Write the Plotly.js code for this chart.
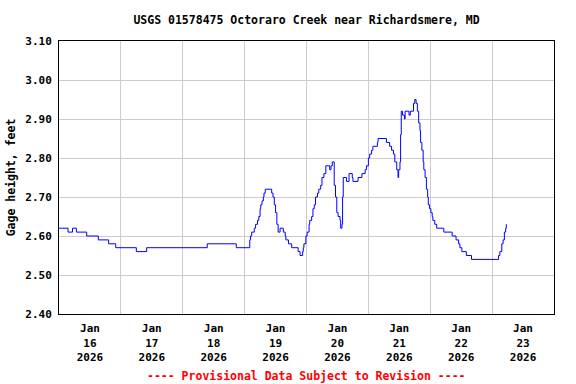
<!DOCTYPE html>
<html>
<head>
<meta charset="utf-8">
<script src="https://cdn.plot.ly/plotly-3.0.1.min.js"></script>
<style>html,body{margin:0;padding:0;background:#fff;}#chart{width:576px;height:384px;}</style>
</head>
<body>
<div id="chart"></div>
<script>
// Gage height readings (step changes), USGS 01578475
const times = [
  "2026-01-16 00:00","2026-01-16 03:30","2026-01-16 05:15","2026-01-16 06:45","2026-01-16 10:45",
  "2026-01-16 15:15","2026-01-16 19:15","2026-01-16 22:00","2026-01-17 06:00","2026-01-17 10:00",
  "2026-01-18 09:30","2026-01-18 20:45","2026-01-19 02:00","2026-01-19 02:15","2026-01-19 02:45",
  "2026-01-19 03:45","2026-01-19 04:15","2026-01-19 05:00","2026-01-19 05:30","2026-01-19 06:00",
  "2026-01-19 06:15","2026-01-19 06:45","2026-01-19 07:15","2026-01-19 07:30","2026-01-19 08:00",
  "2026-01-19 10:30","2026-01-19 11:00","2026-01-19 11:30","2026-01-19 12:00","2026-01-19 12:30",
  "2026-01-19 13:00","2026-01-19 13:45","2026-01-19 15:00","2026-01-19 15:45","2026-01-19 16:00",
  "2026-01-19 17:00","2026-01-19 18:15","2026-01-19 20:45","2026-01-19 21:30","2026-01-19 22:30",
  "2026-01-19 22:45","2026-01-19 23:00","2026-01-19 23:45","2026-01-20 00:15","2026-01-20 01:00",
  "2026-01-20 01:15","2026-01-20 02:00","2026-01-20 02:30","2026-01-20 03:00","2026-01-20 03:30",
  "2026-01-20 04:15","2026-01-20 04:45","2026-01-20 05:30","2026-01-20 06:00","2026-01-20 06:45",
  "2026-01-20 07:30","2026-01-20 09:00","2026-01-20 09:30","2026-01-20 10:00","2026-01-20 10:45",
  "2026-01-20 11:15","2026-01-20 11:45","2026-01-20 12:15","2026-01-20 13:00","2026-01-20 13:15",
  "2026-01-20 13:45","2026-01-20 14:00","2026-01-20 14:15","2026-01-20 15:30","2026-01-20 16:30",
  "2026-01-20 17:45","2026-01-20 18:00","2026-01-20 20:00","2026-01-20 21:30","2026-01-20 22:45",
  "2026-01-20 23:15","2026-01-21 00:00","2026-01-21 00:30","2026-01-21 01:15","2026-01-21 01:45",
  "2026-01-21 03:30","2026-01-21 03:45","2026-01-21 07:00","2026-01-21 08:15","2026-01-21 09:00",
  "2026-01-21 09:45","2026-01-21 10:15","2026-01-21 11:00","2026-01-21 11:30","2026-01-21 11:45",
  "2026-01-21 12:15","2026-01-21 12:30","2026-01-21 12:45","2026-01-21 13:15","2026-01-21 14:00",
  "2026-01-21 14:15","2026-01-21 15:45","2026-01-21 16:15","2026-01-21 17:30","2026-01-21 18:00",
  "2026-01-21 18:30","2026-01-21 19:00","2026-01-21 19:30","2026-01-21 20:00","2026-01-21 20:15",
  "2026-01-21 20:45","2026-01-21 21:15","2026-01-21 21:30","2026-01-21 22:00","2026-01-21 22:30",
  "2026-01-21 23:00","2026-01-21 23:15","2026-01-21 23:45","2026-01-22 00:15","2026-01-22 00:45",
  "2026-01-22 01:00","2026-01-22 01:45","2026-01-22 02:30","2026-01-22 05:15","2026-01-22 08:30",
  "2026-01-22 10:00","2026-01-22 11:00","2026-01-22 11:30","2026-01-22 12:15","2026-01-22 14:00",
  "2026-01-22 16:00","2026-01-23 02:30","2026-01-23 03:00","2026-01-23 03:45","2026-01-23 04:15",
  "2026-01-23 04:45","2026-01-23 05:15","2026-01-23 05:30"
];
const gageHeight = [
  2.62,2.61,2.62,2.61,2.60,
  2.59,2.58,2.57,2.56,2.57,
  2.58,2.57,2.59,2.60,2.61,
  2.62,2.63,2.64,2.65,2.67,
  2.68,2.69,2.70,2.71,2.72,
  2.71,2.70,2.68,2.66,2.63,
  2.61,2.62,2.61,2.60,2.59,
  2.58,2.57,2.56,2.55,2.56,
  2.57,2.58,2.60,2.61,2.63,
  2.64,2.65,2.67,2.68,2.70,
  2.71,2.72,2.73,2.75,2.76,
  2.78,2.77,2.78,2.79,2.73,
  2.70,2.66,2.65,2.64,2.62,
  2.63,2.70,2.75,2.74,2.76,
  2.75,2.74,2.75,2.76,2.77,
  2.78,2.80,2.81,2.82,2.83,
  2.84,2.85,2.84,2.83,2.82,
  2.81,2.79,2.77,2.75,2.77,
  2.79,2.86,2.92,2.91,2.90,
  2.92,2.91,2.92,2.94,2.95,
  2.94,2.92,2.89,2.87,2.84,
  2.82,2.79,2.77,2.75,2.72,
  2.70,2.68,2.67,2.66,2.65,
  2.64,2.63,2.62,2.61,2.60,
  2.59,2.58,2.57,2.56,2.55,
  2.54,2.55,2.56,2.58,2.59,
  2.61,2.62,2.63
];
const yTicks = [2.40,2.50,2.60,2.70,2.80,2.90,3.00,3.10];
const xRange = ["2026-01-16 00:00","2026-01-24 00:00"];
const titleText = "USGS 01578475 Octoraro Creek near Richardsmere, MD";
const yTitle = "Gage height, feet";
const footnote = "---- Provisional Data Subject to Revision ----";

const FONT = "DejaVu Sans Mono, monospace";

Plotly.newPlot("chart", [{
  x: times, y: gageHeight, type: "scatter", mode: "lines",
  line: {color: "#0000ff", width: 1, shape: "hv"},
  hoverinfo: "skip"
}], {
  width: 576, height: 384,
  margin: {l: 59, r: 22, t: 41, b: 70, pad: 0},
  paper_bgcolor: "#ffffff", plot_bgcolor: "#ffffff",
  showlegend: false,
  font: {family: FONT, size: 11, color: "#000", weight: "bold"},
  title: {text: titleText, x: 0.5, xref: "paper", y: 0.949, yanchor: "middle",
          font: {family: FONT, size: 11.5, color: "#000", weight: "bold"}},
  xaxis: {
    type: "date", range: xRange, dtick: 86400000, tick0: "2026-01-16",
    ticklabelmode: "period", tickformat: "%b<br>%d<br>%Y",
    showgrid: true, gridcolor: "#cccccc", gridwidth: 1,
    showline: true, linecolor: "#000", linewidth: 1, mirror: true,
    ticks: "", zeroline: false, ticklabelstandoff: 4,
    tickfont: {family: FONT, size: 11, color: "#000", weight: "bold"}
  },
  yaxis: {
    range: [2.40, 3.10], tickvals: yTicks, tickformat: ".2f",
    showgrid: true, gridcolor: "#cccccc", gridwidth: 1,
    showline: true, linecolor: "#000", linewidth: 1, mirror: true,
    ticks: "", zeroline: false, ticklabelstandoff: 4,
    tickfont: {family: FONT, size: 11, color: "#000", weight: "bold"},
    title: {text: yTitle, standoff: 7, font: {family: FONT, size: 11.5, color: "#000", weight: "bold"}}
  },
  annotations: [{
    text: footnote, xref: "paper", yref: "paper", x: 0.5, y: -0.226,
    xanchor: "center", yanchor: "middle", showarrow: false,
    font: {family: FONT, size: 11.5, color: "#ff0000", weight: "bold"}
  }]
}, {staticPlot: true, displayModeBar: false});
</script>
</body>
</html>
